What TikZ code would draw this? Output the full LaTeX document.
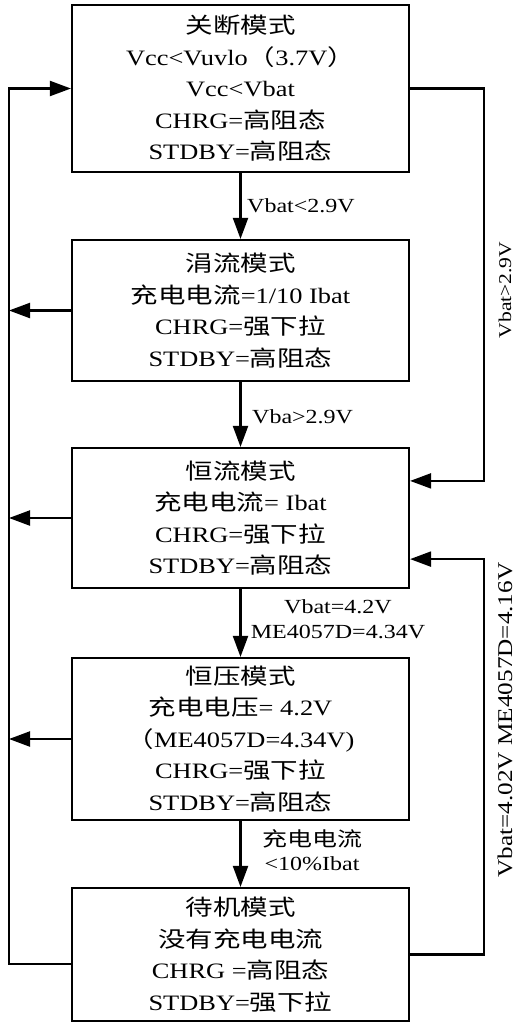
\documentclass[tikz,border=0pt]{standalone}
\usepackage{fontspec}
\setmainfont[FakeStretch=1.2]{Liberation Serif}
\newfontfamily\cjk[FakeStretch=1.25]{Noto Sans CJK SC}
\newcommand\zh[1]{{\cjk #1}}
\usetikzlibrary{arrows.meta,calc}
\begin{document}
\begin{tikzpicture}[x=1pt,y=-1pt,
  box/.style={draw, line width=2.2pt, minimum width=337pt, align=center, inner sep=0pt,
    font=\fontsize{22}{31.5}\selectfont},
  conn/.style={line width=2.2pt, -{Triangle[length=21pt,width=15pt]}},
  elabel/.style={font=\fontsize{20}{24.5}\selectfont, align=center, inner sep=0pt}]
\useasboundingbox (0,0) rectangle (516,1023);
\node[box, minimum height=167pt] (b1) at (240.5,88.5)
  {\zh{关断模式}\\Vcc<Vuvlo\zh{（}3.7V\zh{）}\\Vcc<Vbat\\CHRG=\zh{高阻态}\\STDBY=\zh{高阻态}};
\node[box, minimum height=141pt] (b2) at (240.5,310.5)
  {\zh{涓流模式}\\\zh{充电电流}=1/10 Ibat\\CHRG=\zh{强下拉}\\STDBY=\zh{高阻态}};
\node[box, minimum height=140pt] (b3) at (240.5,518)
  {\zh{恒流模式}\\\zh{充电电流}= Ibat\\CHRG=\zh{强下拉}\\STDBY=\zh{高阻态}};
\node[box, minimum height=162pt] (b4) at (240.5,739)
  {\zh{恒压模式}\\\zh{充电电压}= 4.2V\\\zh{（}ME4057D=4.34V)\\CHRG=\zh{强下拉}\\STDBY=\zh{高阻态}};
\node[box, minimum height=133pt] (b5) at (240.5,954.5)
  {\zh{待机模式}\\\zh{没有充电电流}\\CHRG =\zh{高阻态}\\STDBY=\zh{强下拉}};
\coordinate (L) at (9,0);
\coordinate (R) at (484,0);
\coordinate (b3in1) at ([yshift=-34pt]b3.north east);
\coordinate (b3in2) at ([yshift=30pt]b3.south east);
\coordinate (b5out) at ([yshift=-9.5pt]b5.west);
% down arrows
\draw[conn] (b1.south) -- (b2.north);
\draw[conn] (b2.south) -- (b3.north);
\draw[conn] (b3.south) -- (b4.north);
\draw[conn] (b4.south) -- (b5.north);
% edge labels
\node[elabel, anchor=west] (l1) at (247,206) {Vbat<2.9V};
\node[elabel, anchor=west] (l2) at (252,417) {Vba>2.9V};
\node[elabel] (l3) at (338,619) {Vbat=4.2V\\ME4057D=4.34V};
\node[elabel] (l4) at (312,850) {\zh{充电电流}\\<10\%Ibat};
% left arrows
\draw[conn] (b2.west) -- (b2.west -| L);
\draw[conn] (b3.west) -- (b3.west -| L);
\draw[conn] (b4.west) -- (b4.west -| L);
% left loop back to b1
\draw[conn] (b5out) -| (L |- b1.west) -- (b1.west);
% right loop b1 -> b3
\draw[conn] (b1.east) -| (R |- b3in1) -- (b3in1);
% right loop b5 -> b3
\draw[conn] (b5.east) -| (R |- b3in2) -- (b3in2);
% rotated labels
\node[rotate=90, font=\fontsize{18}{20}\selectfont, inner sep=0pt] (r1) at (505,290) {Vbat>2.9V};
\node[rotate=90, font=\fontsize{21}{24}\selectfont, inner sep=0pt] (r2) at (505,720) {Vbat=4.02V ME4057D=4.16V};
\end{tikzpicture}
\end{document}
